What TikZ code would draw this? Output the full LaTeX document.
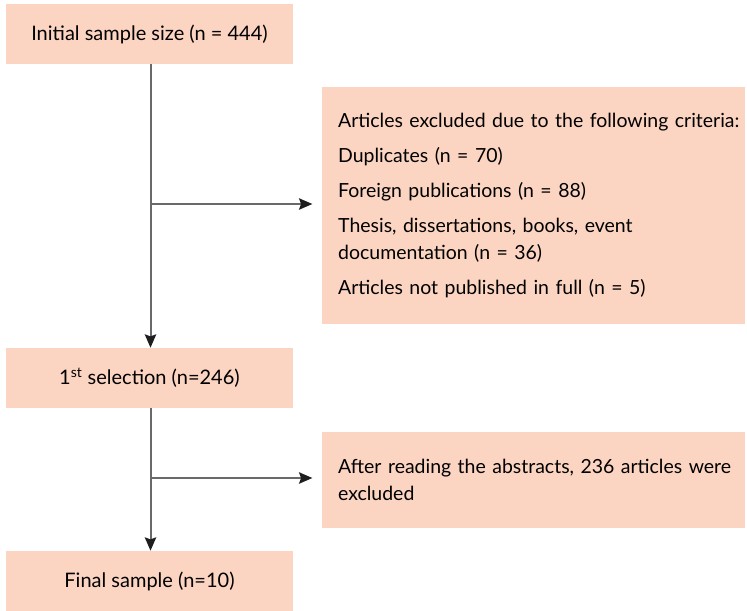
\documentclass[tikz,border=0pt]{standalone}
\usepackage{fontspec}
\setmainfont{Lato}
\usetikzlibrary{arrows.meta,positioning,calc}
\definecolor{flowpeach}{RGB}{252,213,194}
\definecolor{flowline}{RGB}{105,105,105}
\definecolor{flowtip}{RGB}{30,30,30}
\tikzset{
  stagebox/.style={fill=flowpeach, minimum width=215.25pt, minimum height=45pt, font=\fontsize{15}{18}\selectfont},
  notebox/.style={fill=flowpeach, minimum width=317.25pt, text width=293pt, align=left, inner sep=12pt, font=\fontsize{14.6}{20.25}\selectfont},
  flow/.style={-{Stealth[length=10pt, width=8.5pt, inset=1.5pt, color=flowtip]}, draw=flowline, line width=1.5pt}
}

\begin{document}
\begin{tikzpicture}[x=0.75pt, y=-0.75pt]
    \useasboundingbox (0,0) rectangle (747,611);
    % left column
    \node[stagebox] (init) at (149.5,34) {Initial sample size (n = 444)};
    \node[stagebox] (sel) at (149.5,378) {1\textsuperscript{st} selection (n=246)};
    \node[stagebox] (final) at (149.5,581) {Final sample (n=10)};
    % exclusions on the right
    \node[notebox, minimum height=177.75pt] (excl) at (533.5,205.5) {\mbox{Articles excluded due to the following criteria:}\\[6pt]
      Duplicates (n = 70)\\[6pt]
      Foreign publications (n = 88)\\[6pt]
      Thesis, dissertations, books, event\\ documentation (n = 36)\\[6pt]
      Articles not published in full (n = 5)};
    \node[notebox, minimum height=72pt] (abst) at (533.5,480) {\mbox{After reading the abstracts, 236 articles were}\\ excluded};
    % branch points
    \coordinate (b1) at (150.5,204);
    \coordinate (b2) at (150.5,478);
    \draw[flow] (init.south -| b1) -- (sel.north -| b1);
    \draw[flow] (sel.south -| b2) -- (final.north -| b2);
    \draw[flow, shorten >=7pt] (b1) -- (b1 -| excl.west);
    \draw[flow, shorten >=7pt] (b2) -- (b2 -| abst.west);
\end{tikzpicture}
\end{document}
